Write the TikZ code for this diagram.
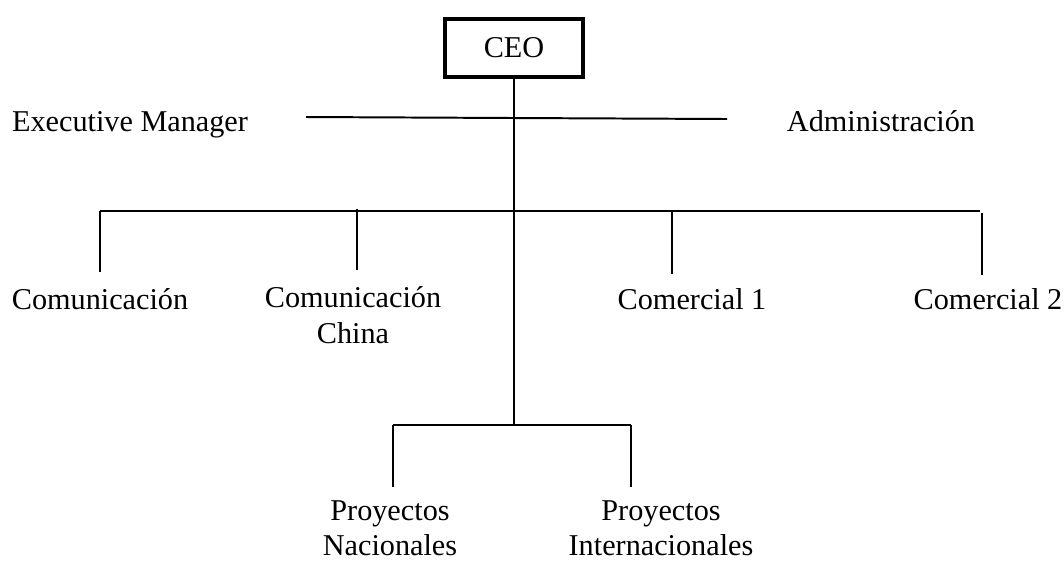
\documentclass[tikz,border=0pt]{standalone}
\usepackage{fontspec}
\setmainfont{Liberation Serif}
\usetikzlibrary{positioning}

\begin{document}
\begin{tikzpicture}[x=0.025cm, y=-0.025cm,
        every node/.style={font=\fontsize{21.5}{24.9}\selectfont},
        unit/.style={align=center, anchor=base, inner sep=0pt},
        boss/.style={draw, line width=2.8pt, minimum width=3.45cm, minimum height=1.45cm, inner sep=0pt},
        link/.style={line width=1.4pt}]
        \useasboundingbox (0,0) rectangle (1064,562);
        \node[boss] (ceo) at (514,48) {CEO};
        %---------------------------
        \node[unit] (exec) at (130,131) {Executive Manager};
        \node[unit] (admin) at (881,131) {Administración};
        \node[unit] (com) at (100,309) {Comunicación};
        \node[unit] (comch) at (353,343) {Comunicación\\China};
        \node[unit] (com1) at (692,309) {Comercial 1};
        \node[unit] (com2) at (988,309) {Comercial 2};
        \node[unit] (pnac) at (390,555) {Proyectos\\Nacionales};
        \node[unit] (pint) at (661,555) {Proyectos\\Internacionales};
        %---------------------------
        \coordinate (exl) at (306,117);
        \coordinate (exm) at (514,118);
        \coordinate (exr) at (727,119);
        \coordinate (bar) at (514,211);
        \coordinate (barl) at (100,211);
        \coordinate (barr) at (980,211);
        \coordinate (comup) at (100,272);
        \coordinate (comchbar) at (357,209);
        \coordinate (comchup) at (357,270);
        \coordinate (com1bar) at (672,211);
        \coordinate (com1up) at (672,274);
        \coordinate (com2bar) at (982,213);
        \coordinate (com2up) at (982,275);
        \coordinate (pbar) at (514,425);
        \coordinate (pbarl) at (393,425);
        \coordinate (pbarr) at (631,425);
        \coordinate (pnacup) at (393,487);
        \coordinate (pintup) at (631,487);
        %--------------------------
        \draw[link] (ceo) -- (pbar);
        \draw[link] (exl) -- (exm) -- (exr);
        \draw[link] (barl) -- (barr);
        \draw[link] (barl) -- (comup);
        \draw[link] (comchbar) -- (comchup);
        \draw[link] (com1bar) -- (com1up);
        \draw[link] (com2bar) -- (com2up);
        \draw[link] (pbarl) -- (pbarr);
        \draw[link] (pbarl) -- (pnacup);
        \draw[link] (pbarr) -- (pintup);
\end{tikzpicture}
\end{document}
